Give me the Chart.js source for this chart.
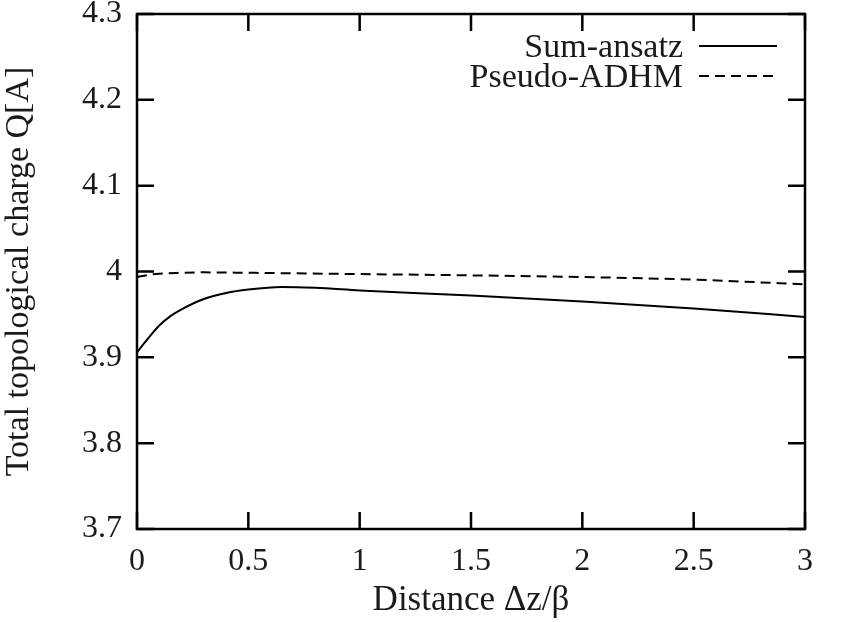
<!DOCTYPE html>
<html>
<head>
<meta charset="utf-8">
<script src="https://cdn.jsdelivr.net/npm/chart.js@4.4.0/dist/chart.umd.min.js"></script>
<style>
  body { margin: 0; background: #fff; }
  #wrap { width: 846px; height: 622px; }
</style>
</head>
<body>
<div id="wrap"><canvas id="chargeChart" width="846" height="622"></canvas></div>
<script>
// distance dz/beta
const sumX = [0, 0.05, 0.1, 0.15, 0.2, 0.3, 0.4, 0.5, 0.65, 0.8, 1.0, 1.5, 2.0, 2.5, 3.0]
const sumQ = [3.906, 3.922, 3.937, 3.948, 3.956, 3.968, 3.975, 3.979, 3.982, 3.981, 3.978, 3.972, 3.965, 3.957, 3.947]

const adhmX = [0, 0.05, 0.1, 0.2, 0.3, 0.5, 1.0, 1.5, 2.0, 2.5, 3.0]
const adhmQ = [3.9935, 3.996, 3.9975, 3.9985, 3.999, 3.9985, 3.997, 3.9955, 3.9935, 3.9905, 3.985]

const xTicks = [0, 0.5, 1, 1.5, 2, 2.5, 3]
const yTicks = [3.7, 3.8, 3.9, 4.0, 4.1, 4.2, 4.3]

const serif = "'Liberation Serif', 'DejaVu Serif', serif"
const ink = '#1a1a1a'

function pts(xs, ys) {
  return xs.map((x, i) => ({ x: x, y: ys[i] }))
}

// gnuplot style frame: box border, inward ticks on all sides, key at top right
const framePlugin = {
  id: 'frame',
  afterDraw(chart) {
    const ctx = chart.ctx
    const a = chart.chartArea
    const xs = chart.scales.x
    const ys = chart.scales.y
    const tl = 17
    ctx.save()
    ctx.strokeStyle = '#000'
    ctx.lineWidth = 2.5
    ctx.beginPath()
    xTicks.forEach(v => {
      const px = xs.getPixelForValue(v)
      ctx.moveTo(px, a.bottom); ctx.lineTo(px, a.bottom - tl)
      ctx.moveTo(px, a.top); ctx.lineTo(px, a.top + tl)
    })
    yTicks.forEach(v => {
      const py = ys.getPixelForValue(v)
      ctx.moveTo(a.left, py); ctx.lineTo(a.left + tl, py)
      ctx.moveTo(a.right, py); ctx.lineTo(a.right - tl, py)
    })
    ctx.stroke()
    ctx.strokeRect(a.left, a.top, a.right - a.left, a.bottom - a.top)

    // key
    ctx.font = '34px ' + serif
    ctx.fillStyle = ink
    ctx.textAlign = 'right'
    ctx.textBaseline = 'middle'
    chart.data.datasets.forEach((ds, i) => {
      const y = 46 + i * 30
      ctx.fillText(ds.label, 683, y + 2)
      ctx.beginPath()
      ctx.lineWidth = ds.borderWidth
      ctx.strokeStyle = ds.borderColor
      ctx.setLineDash(ds.borderDash || [])
      ctx.moveTo(699, y)
      ctx.lineTo(777, y)
      ctx.stroke()
    })
    ctx.restore()
  }
}

new Chart(document.getElementById('chargeChart'), {
  type: 'line',
  data: {
    datasets: [{
      label: 'Sum-ansatz',
      data: pts(sumX, sumQ),
      borderColor: '#000',
      borderWidth: 2,
      pointRadius: 0,
      cubicInterpolationMode: 'monotone'
    }, {
      label: 'Pseudo-ADHM',
      data: pts(adhmX, adhmQ),
      borderColor: '#000',
      borderWidth: 2,
      borderDash: [10, 6],
      pointRadius: 0,
      cubicInterpolationMode: 'monotone'
    }]
  },
  options: {
    responsive: false,
    animation: false,
    layout: { padding: { left: 0, right: 41, top: 14, bottom: 0 } },
    plugins: { legend: { display: false }, tooltip: { enabled: false } },
    scales: {
      x: {
        type: 'linear',
        min: 0,
        max: 3,
        grid: { display: false, drawTicks: false },
        border: { display: false },
        afterBuildTicks: s => { s.ticks = xTicks.map(v => ({ value: v })) },
        afterFit: s => { s.height = 93; s.paddingLeft = 0; s.paddingRight = 0 },
        ticks: {
          color: ink,
          padding: 17,
          maxRotation: 0,
          font: { family: serif, size: 32, lineHeight: 1 },
          callback: v => String(Math.round(v * 10) / 10)
        },
        title: {
          display: true,
          text: 'Distance Δz/β',
          color: ink,
          font: { family: serif, size: 35, lineHeight: 1 },
          padding: { top: 0, bottom: 4 }
        }
      },
      y: {
        min: 3.7,
        max: 4.3,
        grid: { display: false, drawTicks: false },
        border: { display: false },
        afterBuildTicks: s => { s.ticks = yTicks.map(v => ({ value: v })) },
        afterFit: s => { s.width = 137; s.paddingTop = 0; s.paddingBottom = 0 },
        ticks: {
          color: ink,
          padding: 15,
          font: { family: serif, size: 32, lineHeight: 1 },
          callback: v => String(Math.round(v * 10) / 10)
        },
        title: {
          display: true,
          text: 'Total topological charge Q[A]',
          color: ink,
          font: { family: serif, size: 34, lineHeight: 1 },
          padding: { top: 2, bottom: 0 }
        }
      }
    }
  },
  plugins: [framePlugin]
});
</script>
</body>
</html>
